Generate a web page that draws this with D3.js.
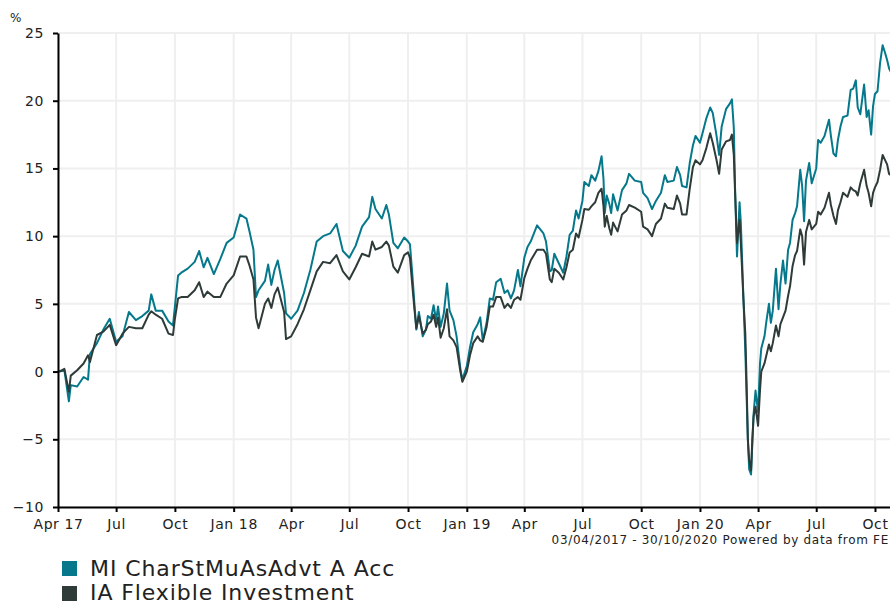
<!DOCTYPE html>
<html>
<head>
<meta charset="utf-8">
<script src="https://cdn.jsdelivr.net/npm/d3@7"></script>
<style>
	body { margin: 0; background: #fff; font-family: "DejaVu Sans", Verdana, sans-serif; }
	svg { display: block; overflow: hidden; }
	.grid line { stroke: #efefef; stroke-width: 2; }
	.axis path, .axis line { stroke: #000; stroke-width: 2; fill: none; }
	.axis text { font-family: "DejaVu Sans", Verdana, sans-serif; font-size: 14px; letter-spacing: 0.6px; fill: #222; }
	.line { fill: none; stroke-width: 2; stroke-linejoin: round; }
	.legend text { font-size: 22px; letter-spacing: 0.9px; fill: #222; }
	.note { font-size: 12px; letter-spacing: 0.7px; fill: #222; }
</style>
</head>
<body>
<div id="chart"></div>
<script>
const dates = [
	"2017-04-03","2017-04-11","2017-04-18","2017-04-21","2017-05-01","2017-05-11","2017-05-18","2017-05-21",
	"2017-06-01","2017-06-11","2017-06-21","2017-07-01","2017-07-11","2017-07-21","2017-08-01","2017-08-11",
	"2017-08-21","2017-08-25","2017-09-01","2017-09-11","2017-09-21","2017-09-28","2017-10-01","2017-10-06",
	"2017-10-11","2017-10-21","2017-11-01","2017-11-08","2017-11-15","2017-11-21","2017-12-01","2017-12-11",
	"2017-12-21","2018-01-01","2018-01-11","2018-01-21","2018-01-26","2018-02-01","2018-02-05","2018-02-09",
	"2018-02-19","2018-02-24","2018-03-01","2018-03-06","2018-03-11","2018-03-21","2018-03-24","2018-04-01",
	"2018-04-11","2018-04-21","2018-05-01","2018-05-11","2018-05-21","2018-06-01","2018-06-11","2018-06-21",
	"2018-07-01","2018-07-11","2018-07-21","2018-08-01","2018-08-06","2018-08-11","2018-08-21","2018-08-28",
	"2018-09-01","2018-09-08","2018-09-15","2018-09-25","2018-10-01","2018-10-04","2018-10-08","2018-10-11",
	"2018-10-14","2018-10-18","2018-10-24","2018-10-29","2018-11-01","2018-11-06","2018-11-10","2018-11-14",
	"2018-11-17","2018-11-21","2018-11-26","2018-12-01","2018-12-05","2018-12-11","2018-12-16","2018-12-22",
	"2018-12-25","2019-01-01","2019-01-06","2019-01-11","2019-01-18","2019-01-22","2019-01-26","2019-02-01",
	"2019-02-06","2019-02-11","2019-02-16","2019-02-23","2019-03-01","2019-03-06","2019-03-11","2019-03-16",
	"2019-03-22","2019-03-26","2019-04-01","2019-04-06","2019-04-11","2019-04-21","2019-05-01","2019-05-05",
	"2019-05-11","2019-05-14","2019-05-18","2019-05-25","2019-06-01","2019-06-06","2019-06-11","2019-06-16",
	"2019-06-21","2019-06-25","2019-07-01","2019-07-04","2019-07-11","2019-07-15","2019-07-21","2019-07-26",
	"2019-07-31","2019-08-03","2019-08-05","2019-08-08","2019-08-12","2019-08-15","2019-08-18","2019-08-25",
	"2019-09-01","2019-09-08","2019-09-12","2019-09-21","2019-10-01","2019-10-04","2019-10-11","2019-10-18",
	"2019-10-24","2019-11-01","2019-11-07","2019-11-11","2019-11-21","2019-11-26","2019-12-01","2019-12-04",
	"2019-12-11","2019-12-16","2019-12-21","2019-12-25","2020-01-01","2020-01-05","2020-01-11","2020-01-17",
	"2020-01-21","2020-01-27","2020-01-31","2020-02-04","2020-02-11","2020-02-17","2020-02-20","2020-02-23",
	"2020-02-25","2020-02-28","2020-03-03","2020-03-05","2020-03-09","2020-03-12","2020-03-14","2020-03-16",
	"2020-03-18","2020-03-21","2020-03-23","2020-03-25","2020-03-28","2020-04-01","2020-04-04","2020-04-06",
	"2020-04-11","2020-04-14","2020-04-18","2020-04-21","2020-04-24","2020-04-29","2020-05-03","2020-05-06",
	"2020-05-10","2020-05-14","2020-05-18","2020-05-21","2020-05-25","2020-05-29","2020-06-01","2020-06-06",
	"2020-06-09","2020-06-12","2020-06-15","2020-06-20","2020-06-24","2020-07-01","2020-07-04","2020-07-08",
	"2020-07-14","2020-07-21","2020-07-24","2020-07-28","2020-08-01","2020-08-04","2020-08-08","2020-08-12",
	"2020-08-19","2020-08-24","2020-08-28","2020-09-01","2020-09-04","2020-09-08","2020-09-14","2020-09-18",
	"2020-09-21","2020-09-25","2020-09-28","2020-10-01","2020-10-05","2020-10-09","2020-10-13","2020-10-17",
	"2020-10-20","2020-10-23","2020-10-26","2020-10-30"
];

// MI CharStMuAsAdvt A Acc
const fund = [
	0, 0.1, -2.2, -1.0, -1.1, -0.4, -0.6, 1.3,
	2.1, 3.1, 3.9, 2.2, 2.6, 4.4, 3.8, 4.1,
	4.5, 5.7, 4.5, 4.5, 3.7, 3.4, 4.8, 7.1,
	7.3, 7.6, 8.1, 8.9, 7.7, 8.4, 7.2, 8.3,
	9.5, 9.9, 11.6, 11.3, 10.3, 9.0, 5.5, 6.0,
	6.7, 7.9, 6.4, 7.5, 8.2, 5.8, 4.3, 3.9,
	4.5, 5.8, 7.5, 9.6, 10.0, 10.2, 10.9, 8.9,
	8.4, 9.3, 10.7, 11.4, 12.9, 12.0, 11.3, 12.3,
	11.6, 9.5, 9.1, 9.9, 9.6, 9.4, 7.0, 5.0,
	3.1, 4.4, 2.6, 3.1, 4.1, 3.9, 4.9, 3.8,
	4.8, 3.3, 4.3, 6.5, 4.5, 3.8, 2.6, 0.2,
	-0.6, 0.4, 1.8, 2.9, 3.5, 4.0, 2.3, 3.6,
	5.4, 5.3, 6.6, 6.85, 5.8, 6.0, 5.4, 6.0,
	7.5, 6.3, 8.4, 9.2, 9.6, 10.8, 10.2, 9.6,
	7.4, 7.5, 8.7, 8.0, 7.3, 8.5, 10.1, 10.4,
	11.9, 11.3, 12.6, 14.0, 13.7, 14.5, 14.1, 14.8,
	15.9, 14.2, 11.7, 13.0, 12.4, 11.7, 13.1, 11.9,
	13.4, 13.9, 14.6, 14.1, 14.0, 13.2, 12.8, 12.0,
	12.6, 13.2, 14.5, 14.0, 14.1, 15.1, 14.5, 13.7,
	13.6, 15.4, 16.7, 17.4, 16.9, 17.6, 18.7, 19.5,
	19.1, 17.4, 16.0, 18.1, 19.4, 19.8, 20.1, 18.0,
	13.5, 8.5, 12.5, 11.0, 5.5, 1.5, -1.8, -5.0,
	-7.2, -7.6, -5.3, -3.1, -1.4, -3.0, 0.6, 1.7,
	2.6, 3.7, 5.0, 3.6, 4.5, 7.6, 4.6, 6.5,
	8.2, 6.5, 9.0, 9.5, 11.2, 11.7, 12.2, 14.9,
	13.7, 11.1, 14.1, 15.4, 13.9, 15.0, 17.1, 16.9,
	17.4, 18.6, 17.4, 16.1, 15.9, 17.1, 18.1, 18.8,
	18.9, 20.8, 20.9, 21.5, 19.5, 19.0, 21.2, 18.8,
	19.3, 17.5, 19.6, 20.5, 20.7, 22.8, 24.1, 23.5,
	23.0, 22.4, 22.1, 22.0
];

// IA Flexible Investment
const sector = [
	0, 0.2, -1.5, -0.3, 0.1, 0.6, 1.2, 0.7,
	2.7, 2.95, 3.45, 1.95, 2.8, 3.3, 3.2, 3.2,
	4.2, 4.45, 4.2, 3.9, 2.8, 2.7, 3.9, 5.4,
	5.5, 5.5, 6.0, 6.6, 5.5, 5.9, 5.5, 5.5,
	6.5, 7.1, 8.5, 8.5, 7.8, 6.8, 4.0, 3.2,
	5.0, 5.4, 4.7, 5.7, 6.2, 4.4, 2.4, 2.6,
	3.5, 4.6, 6.0, 7.4, 8.1, 8.0, 8.6, 7.4,
	6.8, 7.7, 8.7, 8.5, 9.6, 9.0, 9.2, 9.6,
	9.3, 7.75, 7.3, 8.6, 8.8, 8.4, 6.2, 4.6,
	3.2, 4.1, 2.8, 3.1, 3.5, 3.7, 4.2, 3.3,
	4.0, 2.5, 3.2, 4.6, 2.6, 2.3, 1.8, 0.0,
	-0.75, 0.0, 1.2, 2.1, 2.6, 2.3, 2.2, 3.3,
	4.8, 4.8, 5.5, 5.5, 4.7, 5.0, 4.7, 5.3,
	5.5, 5.3, 6.9, 7.6, 8.2, 9.0, 9.0, 8.7,
	6.8, 6.6, 7.6, 7.3, 6.8, 7.7, 8.8, 9.0,
	10.2, 9.9, 11.2, 12.0, 11.95, 12.2, 12.5, 13.2,
	13.5, 12.2, 10.7, 11.5, 10.6, 10.1, 11.0, 10.35,
	11.6, 11.9, 12.3, 12.1, 11.8, 10.7, 10.5, 10.0,
	10.9, 11.3, 12.4, 12.1, 12.0, 13.0, 12.4, 11.6,
	11.6, 13.5, 15.1, 15.6, 15.3, 15.6, 16.5, 17.6,
	16.9, 15.6, 14.6, 16.4, 17.0, 17.1, 17.5, 16.0,
	13.2, 9.5, 11.2, 9.5, 5.4, 2.8, -0.8, -5.0,
	-6.5, -7.3, -5.0, -3.3, -2.6, -4.0, -1.4, 0.0,
	0.6, 1.2, 2.0, 1.5, 2.1, 3.4, 2.6, 3.5,
	4.0, 4.5, 5.6, 6.3, 7.8, 8.6, 8.9, 10.5,
	10.0, 7.9, 10.3, 11.2, 10.5, 10.9, 11.8, 11.6,
	12.1, 13.2, 12.3, 11.5, 10.9, 11.9, 12.5, 13.2,
	12.9, 13.6, 13.4, 13.3, 13.0, 13.9, 14.9, 13.7,
	13.2, 12.2, 13.2, 13.6, 14.0, 14.9, 16.0, 15.6,
	15.3, 14.6, 14.5, 14.5
];

const seriesNames = ["MI CharStMuAsAdvt A Acc", "IA Flexible Investment"];
const yTicks = [-10, -5, 0, 5, 10, 15, 20, 25];
const xStart = "2017-04-01";
const xEnd = "2020-10-30";
const unitLabel = "%";
const footnote = "03/04/2017 - 30/10/2020 Powered by data from FE";

const COLORS = ["#05798b", "#2e3b38"];
const WIDTH = 890, HEIGHT = 604;
const LEFT = 58, TOP = 33, BOTTOM = 507, RIGHT = 893.5;

const parse = d3.utcParse("%Y-%m-%d");
const svg = d3.select("#chart").append("svg")
	.attr("width", WIDTH)
	.attr("height", HEIGHT);

const xScale = d3.scaleUtc()
	.domain([parse(xStart), parse(xEnd)])
	.range([LEFT, RIGHT]);
const yScale = d3.scaleLinear()
	.domain([yTicks[0], yTicks[yTicks.length - 1]])
	.range([BOTTOM, TOP]);

const xTicks = d3.utcMonth.every(3).range(parse(xStart), xScale.domain()[1]);
const fmtTick = (d, i) => (i === 0 || d.getUTCMonth() === 0)
	? d3.utcFormat("%b %y")(d) : d3.utcFormat("%b")(d);

// grid
const grid = svg.append("g").attr("class", "grid");
grid.selectAll(".v").data(xTicks).join("line")
	.attr("x1", d => xScale(d)).attr("x2", d => xScale(d))
	.attr("y1", TOP).attr("y2", BOTTOM);
grid.selectAll(".h").data(yTicks).join("line")
	.attr("x1", LEFT).attr("x2", WIDTH)
	.attr("y1", d => yScale(d)).attr("y2", d => yScale(d));

// lines
const line = (vals) => d3.line()
	.x((d, i) => xScale(parse(dates[i])))
	.y(d => yScale(d))(vals);

[fund, sector].forEach((vals, k) => {
	svg.append("path")
		.attr("class", "line")
		.attr("stroke", COLORS[k])
		.attr("d", line(vals));
});

// axes
svg.append("g")
	.attr("class", "axis y")
	.attr("transform", `translate(${LEFT},0)`)
	.call(d3.axisLeft(yScale).tickValues(yTicks).tickSize(5).tickSizeOuter(0).tickPadding(9));
svg.append("g")
	.attr("class", "axis x")
	.attr("transform", `translate(0,${BOTTOM})`)
	.call(d3.axisBottom(xScale).tickValues(xTicks).tickFormat(fmtTick).tickSize(5).tickSizeOuter(0).tickPadding(7));

svg.append("text")
	.attr("x", 10).attr("y", 22)
	.attr("class", "note")
	.text(unitLabel);

svg.append("text")
	.attr("class", "note")
	.attr("x", 889).attr("y", 544)
	.attr("text-anchor", "end")
	.text(footnote);

// legend
const legend = svg.append("g").attr("class", "legend");
seriesNames.forEach((name, k) => {
	legend.append("rect")
		.attr("x", 62).attr("y", 561 + k * 25)
		.attr("width", 15).attr("height", 15)
		.attr("fill", COLORS[k]);
	legend.append("text")
		.attr("x", 90).attr("y", 576 + k * 24)
		.text(name);
});
</script>
</body>
</html>
